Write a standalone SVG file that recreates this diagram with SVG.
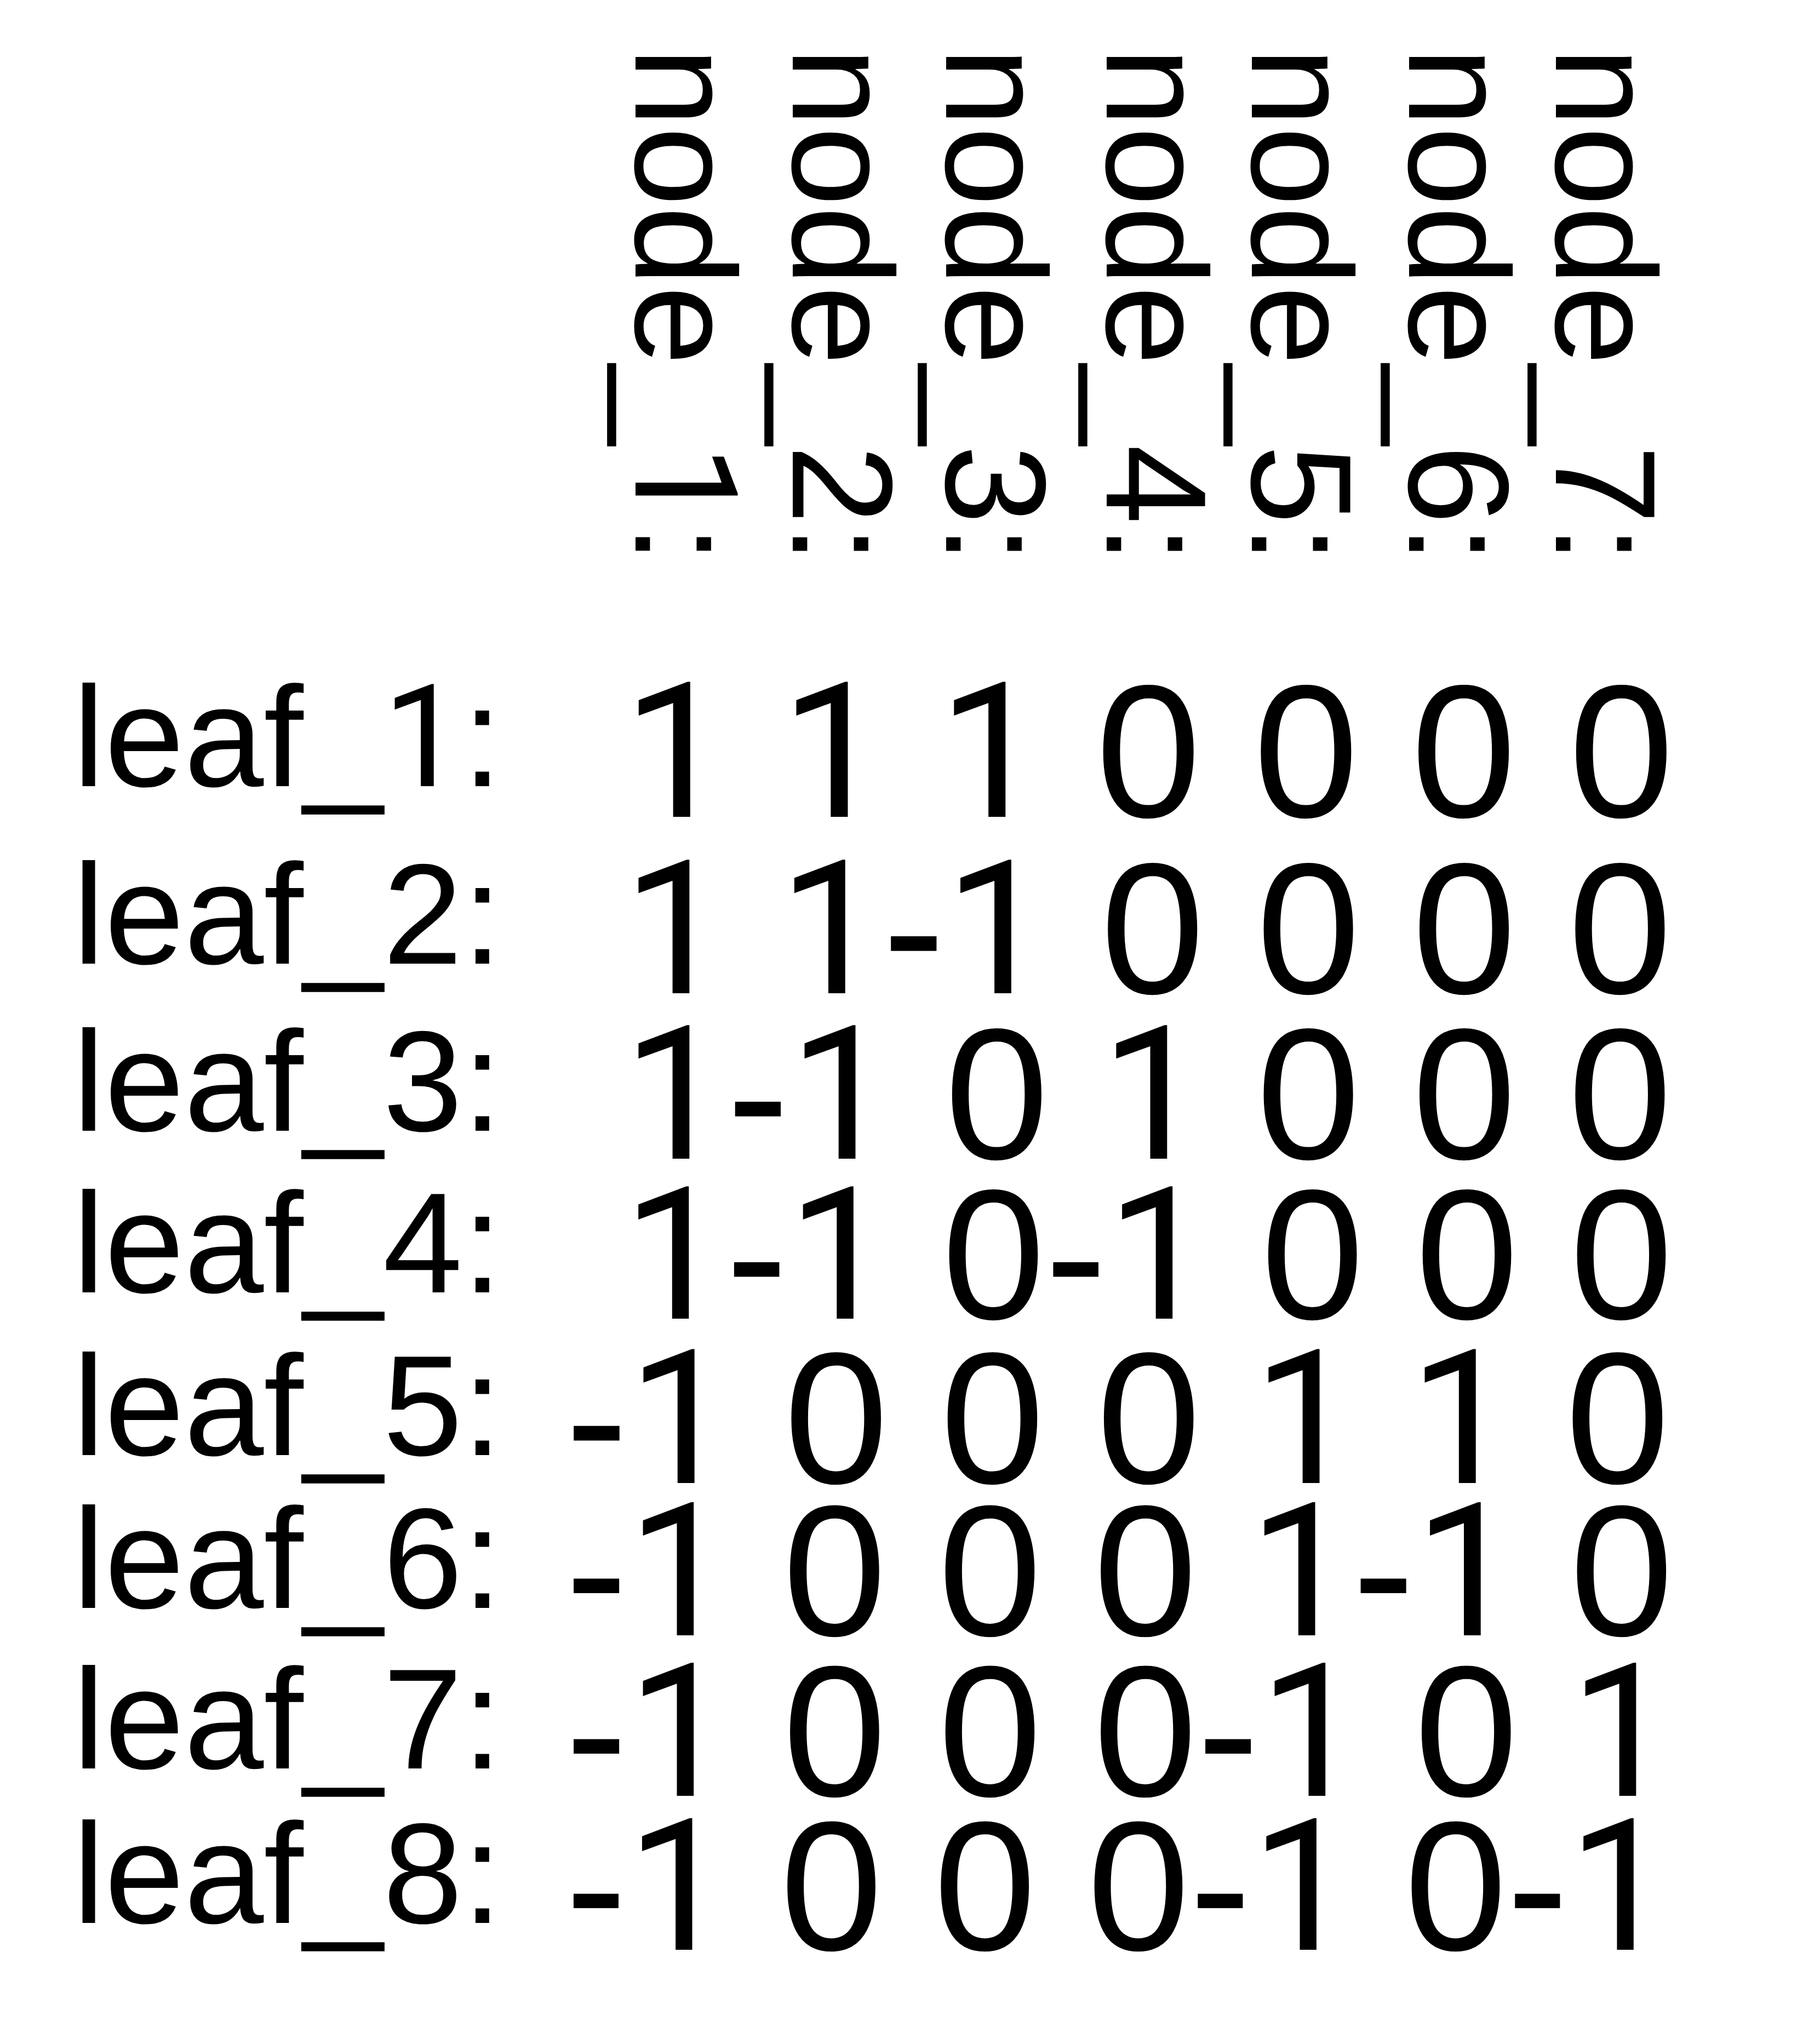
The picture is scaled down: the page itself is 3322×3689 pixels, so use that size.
<svg xmlns="http://www.w3.org/2000/svg" width="3322" height="3689" viewBox="0 0 3322 3689">
<style>
text { font-family: "Liberation Sans", Arial, Helvetica, sans-serif; fill: #000; }
.lbl { font-size: 261px; }
.mat { font-size: 342px; }
.one { font-family: Roboto, "Noto Sans", "Liberation Sans", sans-serif; }
</style>
<rect x="0" y="0" width="3322" height="3689" fill="#fff"/>
<g id="column-labels">
  <g id="node_1"><text class="lbl" transform="translate(1160,86) rotate(90)"><tspan x="0">node_</tspan><tspan class="one" x="725.6">1</tspan><tspan x="870.7">:</tspan></text></g>
  <g id="node_2"><text class="lbl" transform="translate(1447,86) rotate(90)">node_2:</text></g>
  <g id="node_3"><text class="lbl" transform="translate(1727,86) rotate(90)">node_3:</text></g>
  <g id="node_4"><text class="lbl" transform="translate(2020,86) rotate(90)">node_4:</text></g>
  <g id="node_5"><text class="lbl" transform="translate(2285,86) rotate(90)">node_5:</text></g>
  <g id="node_6"><text class="lbl" transform="translate(2572,86) rotate(90)">node_6:</text></g>
  <g id="node_7"><text class="lbl" transform="translate(2840,86) rotate(90)">node_7:</text></g>
</g>
<g id="row-labels">
  <g id="leaf_1"><text class="lbl" x="133" y="1435"><tspan x="133">leaf_</tspan><tspan class="one" x="698.8">1</tspan><tspan x="844">:</tspan></text></g>
  <g id="leaf_2"><text class="lbl" x="133" y="1759">leaf_2:</text></g>
  <g id="leaf_3"><text class="lbl" x="133" y="2064">leaf_3:</text></g>
  <g id="leaf_4"><text class="lbl" x="133" y="2359">leaf_4:</text></g>
  <g id="leaf_5"><text class="lbl" x="133" y="2656">leaf_5:</text></g>
  <g id="leaf_6"><text class="lbl" x="133" y="2935">leaf_6:</text></g>
  <g id="leaf_7"><text class="lbl" x="133" y="3228">leaf_7:</text></g>
  <g id="leaf_8"><text class="lbl" x="133" y="3510">leaf_8:</text></g>
</g>
<g id="matrix">
  <g id="row_1"><text class="mat" y="1491" style="font-size:345px"><tspan class="one" x="1137">1 </tspan><tspan class="one" x="1424.7">1 </tspan><tspan class="one" x="1712.5">1 </tspan><tspan x="2000.2">0 0 0 0</tspan></text></g>
  <g id="row_2"><text class="mat" y="1813" style="font-size:341px"><tspan class="one" x="1137">1 </tspan><tspan class="one" x="1421.4">1</tspan><tspan x="1611">-</tspan><tspan class="one" x="1724.5">1 </tspan><tspan x="2008.9">0 0 0 0</tspan></text></g>
  <g id="row_3"><text class="mat" y="2115" style="font-size:341px"><tspan class="one" x="1137">1</tspan><tspan x="1326.6">-</tspan><tspan class="one" x="1440.1">1 </tspan><tspan x="1724.5">0 </tspan><tspan class="one" x="2008.9">1 </tspan><tspan x="2293.3">0 0 0</tspan></text></g>
  <g id="row_4"><text class="mat" y="2407" style="font-size:338px"><tspan class="one" x="1137">1</tspan><tspan x="1324.9">-</tspan><tspan class="one" x="1437.5">1 </tspan><tspan x="1719.4">0-</tspan><tspan class="one" x="2019.9">1 </tspan><tspan x="2301.7">0 0 0</tspan></text></g>
  <g id="row_5"><text class="mat" y="2707" style="font-size:342px"><tspan x="1032">-</tspan><tspan class="one" x="1145.9">1 </tspan><tspan x="1431.1">0 0 0 </tspan><tspan class="one" x="2286.8">1 </tspan><tspan class="one" x="2572">1 </tspan><tspan x="2857.3">0</tspan></text></g>
  <g id="row_6"><text class="mat" y="2985" style="font-size:340px"><tspan x="1032">-</tspan><tspan class="one" x="1145.2">1 </tspan><tspan x="1428.8">0 0 0 </tspan><tspan class="one" x="2279.5">1</tspan><tspan x="2468.5">-</tspan><tspan class="one" x="2581.7">1 </tspan><tspan x="2865.3">0</tspan></text></g>
  <g id="row_7"><text class="mat" y="3278" style="font-size:340px"><tspan x="1032">-</tspan><tspan class="one" x="1145.2">1 </tspan><tspan x="1428.8">0 0 0-</tspan><tspan class="one" x="2298.2">1 </tspan><tspan x="2581.7">0 </tspan><tspan class="one" x="2865.3">1</tspan></text></g>
  <g id="row_8"><text class="mat" y="3559" style="font-size:336px"><tspan x="1032">-</tspan><tspan class="one" x="1143.9">1 </tspan><tspan x="1424.1">0 0 0-</tspan><tspan class="one" x="2283.3">1 </tspan><tspan x="2563.5">0-</tspan><tspan class="one" x="2862.2">1</tspan></text></g>
</g>
</svg>
